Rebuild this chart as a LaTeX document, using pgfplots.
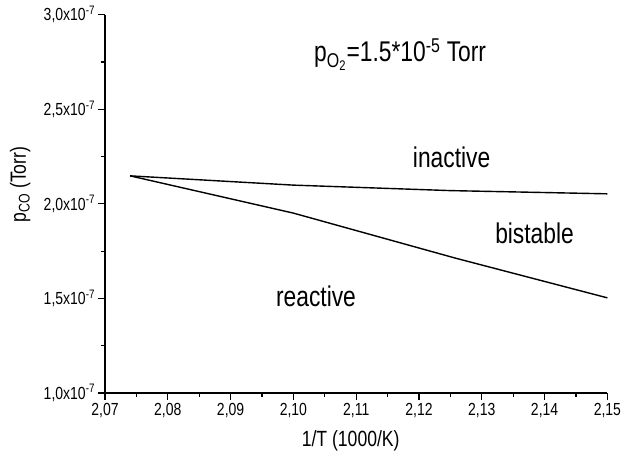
\documentclass[border=0pt]{standalone}
\usepackage{fontspec}
\setmainfont[FakeStretch=0.8]{Liberation Sans}
\usepackage{pgfplots}
\pgfplotsset{compat=1.18}
\begin{document}
\begin{tikzpicture}
\begin{axis}[
  at={(0,0)}, anchor=south west,
  scale only axis,
  width=502.4bp, height=378.3bp,
  xmin=2.07, xmax=2.15,
  ymin=1.0e-7, ymax=3.0e-7,
  axis x line*=bottom, axis y line*=left,
  axis line style={line width=1.4bp},
  tick style={line width=1.2bp, black},
  tick align=outside,
  major tick length=6.5bp, minor tick length=4bp,
  xtick={2.07,2.08,2.09,2.10,2.11,2.12,2.13,2.14,2.15},
  xticklabels={{2,07},{2,08},{2,09},{2,10},{2,11},{2,12},{2,13},{2,14},{2,15}},
  minor x tick num=1,
  ytick={1.0e-7,1.5e-7,2.0e-7,2.5e-7,3.0e-7},
  yticklabels={{1,0x10\textsuperscript{-7}},{1,5x10\textsuperscript{-7}},{2,0x10\textsuperscript{-7}},{2,5x10\textsuperscript{-7}},{3,0x10\textsuperscript{-7}}},
  minor y tick num=1,
  scaled x ticks=false, scaled y ticks=false,
  tick label style={font=\fontsize{17.5bp}{19bp}\selectfont},
  clip=false,
]
\addplot[black, line width=1.4bp] coordinates {
  (2.074,2.148e-7) (2.10,2.099e-7) (2.125,2.070e-7) (2.15,2.053e-7)
};
\addplot[black, line width=1.4bp] coordinates {
  (2.074,2.148e-7) (2.10,1.951e-7) (2.1258,1.713e-7) (2.15,1.503e-7)
};
\node[font=\fontsize{28.5bp}{30bp}\selectfont, anchor=base] at (axis cs:2.1170,2.751e-7) {p\textsubscript{O\textsubscript{2}}=1.5*10\textsuperscript{-5} Torr};
\node[font=\fontsize{28.5bp}{30bp}\selectfont, anchor=base] at (axis cs:2.1252,2.193e-7) {inactive};
\node[font=\fontsize{28.5bp}{30bp}\selectfont, anchor=base] at (axis cs:2.1384,1.791e-7) {bistable};
\node[font=\fontsize{28.5bp}{30bp}\selectfont, anchor=base] at (axis cs:2.1036,1.456e-7) {reactive};
\node[font=\fontsize{22bp}{24bp}\selectfont, anchor=base] at ([xshift=245.7bp, yshift=-53.7bp]rel axis cs:0,0) {1/T (1000/K)};
\node[font=\fontsize{22bp}{24bp}\selectfont, anchor=base, rotate=90] at ([xshift=-79bp, yshift=208.5bp]rel axis cs:0,0) {p\textsubscript{CO} (Torr)};
\end{axis}
\pgfresetboundingbox
\path (-105bp,-62bp) rectangle (516bp,393bp);
\end{tikzpicture}
\end{document}
